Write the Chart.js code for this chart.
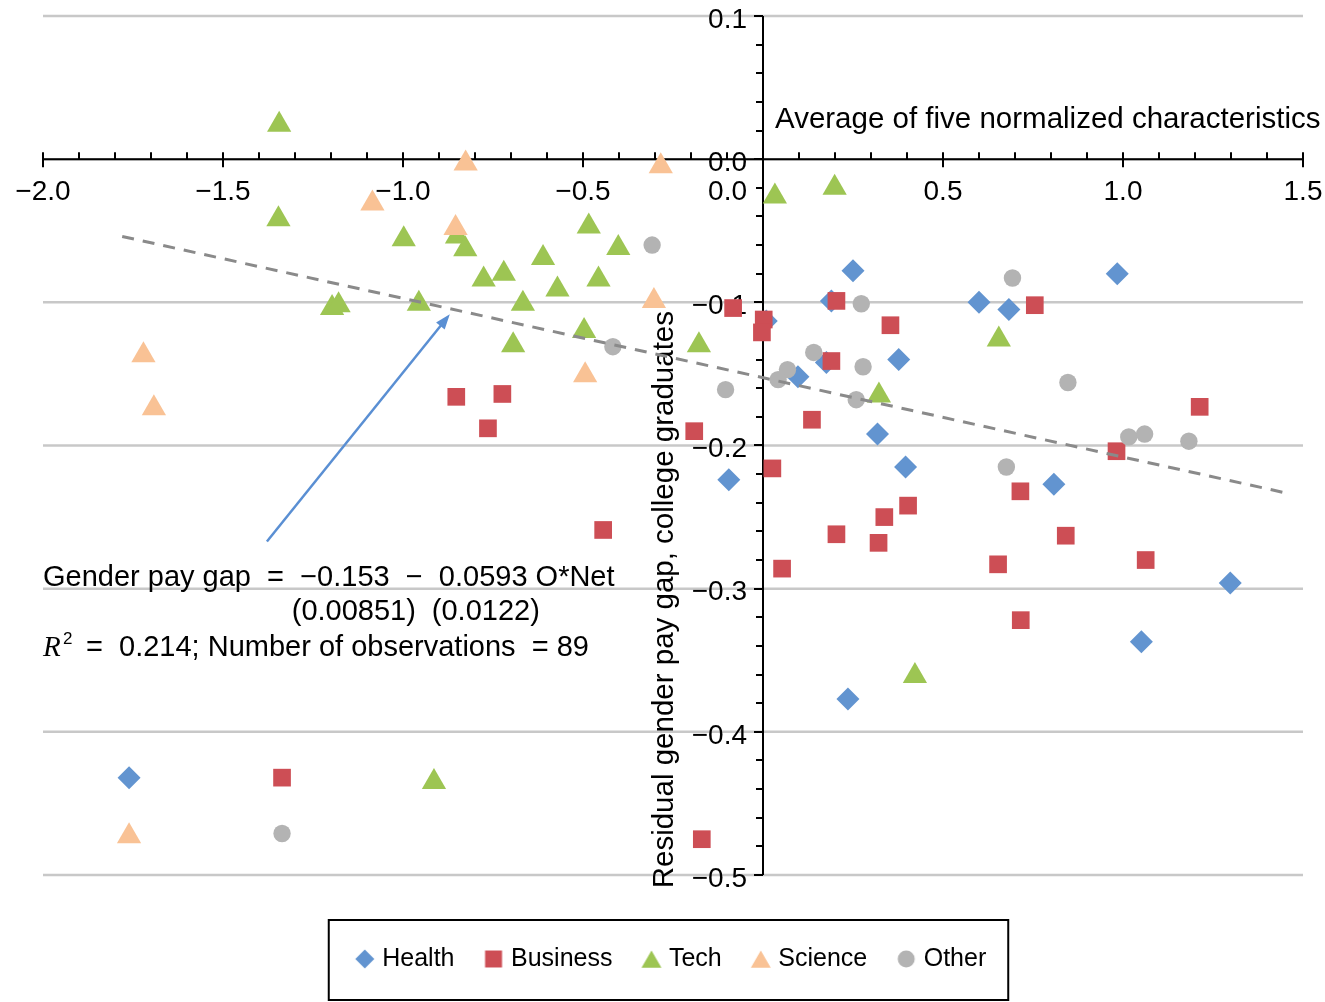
<!DOCTYPE html>
<html>
<head>
<meta charset="utf-8">
<script src="https://cdn.jsdelivr.net/npm/chart.js@4.4.1/dist/chart.umd.min.js"></script>
<style>
html,body{margin:0;padding:0;background:#fff;}
#wrap{width:1325px;height:1002px;}
</style>
</head>
<body>
<div id="wrap"><canvas id="c" width="1325" height="1002"></canvas></div>
<script>
// ---------------- data ----------------
const categories = ['Health', 'Business', 'Tech', 'Science', 'Other'];

const healthX = [0.009, 0.250, 0.190, 0.377, 0.176, 0.097, -0.095, 0.600, 0.683, 0.984, 0.318, 0.396, 0.808, 1.298, 0.236, 1.051, -1.761];
const healthY = [-0.113, -0.078, -0.099, -0.140, -0.142, -0.152, -0.224, -0.100, -0.105, -0.080, -0.192, -0.215, -0.227, -0.296, -0.377, -0.337, -0.432];

const businessX = [-0.083, 0.002, -0.003, 0.204, 0.354, 0.190, 0.136, -0.852, -0.724, -0.764, -0.191, -0.444, 0.026, 0.053, 0.755, 1.213, 0.982, 0.715, 0.403, 0.337, 0.204, 0.321, 0.841, 0.653, 1.063, 0.716, -0.170, -1.336];
const businessY = [-0.104, -0.112, -0.121, -0.099, -0.116, -0.141, -0.182, -0.166, -0.164, -0.188, -0.190, -0.259, -0.216, -0.286, -0.102, -0.173, -0.204, -0.232, -0.242, -0.250, -0.262, -0.268, -0.263, -0.283, -0.280, -0.322, -0.475, -0.432];

const techX = [-1.344, -1.346, -0.998, -1.197, -1.179, -0.956, -0.850, -0.827, -0.776, -0.720, -0.611, -0.484, -0.402, -0.571, -0.457, -0.667, -0.497, -0.694, -0.178, 0.033, 0.199, 0.322, 0.655, 0.422, -0.914];
const techY = [0.024, -0.042, -0.056, -0.104, -0.102, -0.101, -0.054, -0.063, -0.084, -0.080, -0.069, -0.047, -0.062, -0.091, -0.084, -0.101, -0.120, -0.130, -0.130, -0.026, -0.020, -0.165, -0.126, -0.361, -0.435];

const scienceX = [-1.085, -1.721, -1.692, -0.826, -0.284, -0.854, -0.303, -0.494, -1.761];
const scienceY = [-0.031, -0.137, -0.174, -0.003, -0.005, -0.048, -0.099, -0.151, -0.473];

const otherX = [-0.308, -0.417, -0.104, 0.273, 0.141, 0.278, 0.068, 0.042, 0.259, 0.693, 0.847, 1.016, 1.060, 1.183, 0.676, -1.336];
const otherY = [-0.060, -0.131, -0.161, -0.101, -0.135, -0.145, -0.147, -0.154, -0.168, -0.083, -0.156, -0.194, -0.192, -0.197, -0.215, -0.471];

// fitted line end points (as drawn)
const trendX = [-1.78, 1.45];
const trendY = [-0.054, -0.233];

// arrow annotation (tail -> head), data units
const arrowX = [-1.378, -0.870];
const arrowY = [-0.267, -0.1084];

// axis ticks
const xMin = -2.0, xMax = 1.5, xMinorStep = 0.1;
const yMin = -0.5, yMax = 0.1, yMinorStep = 0.02;
const xTickValues = [-2.0, -1.5, -1.0, -0.5, 0.0, 0.5, 1.0, 1.5];
const xTickLabels = ['\u22122.0', '\u22121.5', '\u22121.0', '\u22120.5', '0.0', '0.5', '1.0', '1.5'];
const yTickValues = [0.1, 0.0, -0.1, -0.2, -0.3, -0.4, -0.5];
const yTickLabels = ['0.1', '0.0', '\u22120.1', '\u22120.2', '\u22120.3', '\u22120.4', '\u22120.5'];

const xTitle = 'Average of five normalized characteristics';
const yTitle = 'Residual gender pay gap, college graduates';
const eqLine1 = 'Gender pay gap  =  \u22120.153  \u2212  0.0593 O*Net';
const eqSe1 = '(0.00851)';
const eqSe2 = '(0.0122)';
const eqR = 'R';
const eqR2 = '2';
const eqLine3 = '=  0.214; Number of observations  = 89';

// ---------------- style ----------------
const FONT = '"Liberation Sans", Arial, Helvetica, sans-serif';
const SERIF = '"Liberation Serif", "DejaVu Serif", serif';
const COLORS = ['#6294D0', '#CD4E55', '#9DC553', '#F9C295', '#B3B3B3'];
const STYLES = ['rectRot', 'rect', 'triangle', 'triangle', 'circle'];
const RADII = [11.5, 12.5, 14, 14, 8.7];
const LEGEND_RADII = [9.5, 12, 11.5, 11.5, 8.5];
const GRID_COLOR = '#c8c8c8';

const xs = [healthX, businessX, techX, scienceX, otherX];
const ys = [healthY, businessY, techY, scienceY, otherY];

// legend marker icons, drawn with Chart.js' own point renderer
const legendIcons = categories.map((name, i) => {
  const cv = document.createElement('canvas');
  const s = 26;
  cv.width = s; cv.height = s;
  const c = cv.getContext('2d');
  c.fillStyle = COLORS[i];
  c.strokeStyle = COLORS[i];
  const yOff = STYLES[i] === 'triangle' ? 3 : 0;
  Chart.helpers.drawPoint(c, {pointStyle: STYLES[i], radius: LEGEND_RADII[i], rotation: 0, borderWidth: 0}, s / 2, s / 2 + yOff);
  return cv;
});

const datasets = categories.map((name, i) => ({
  label: name,
  data: xs[i].map((x, j) => ({x: x, y: ys[i][j]})),
  backgroundColor: COLORS[i],
  borderColor: COLORS[i],
  borderWidth: 0,
  pointStyle: STYLES[i],
  pointRadius: RADII[i],
  pointHoverRadius: RADII[i],
  order: categories.length - i,
  clip: false
}));

datasets.push({
  type: 'line',
  label: 'fit',
  data: trendX.map((x, j) => ({x: x, y: trendY[j]})),
  showLine: true,
  borderColor: '#8a8a8a',
  borderWidth: 3,
  borderDash: [12, 9],
  pointRadius: 0,
  fill: false,
  order: 0,
  clip: false
});

// ---------------- plugin: crossing axes, grid, titles, annotations ----------------
const crossAxes = {
  id: 'crossAxes',
  beforeDatasetsDraw(chart) {
    const {ctx, chartArea: ca} = chart;
    const sx = chart.scales.x, sy = chart.scales.y;
    const X = v => sx.getPixelForValue(v), Y = v => sy.getPixelForValue(v);
    const x0 = X(0), y0 = Y(0);
    ctx.save();
    // gridlines
    ctx.strokeStyle = GRID_COLOR;
    ctx.lineWidth = 2.5;
    yTickValues.forEach(v => {
      const py = Y(v);
      ctx.beginPath(); ctx.moveTo(ca.left, py); ctx.lineTo(ca.right, py); ctx.stroke();
    });
    // x axis
    ctx.strokeStyle = '#000';
    ctx.lineWidth = 2;
    ctx.beginPath(); ctx.moveTo(X(xMin), y0); ctx.lineTo(X(xMax), y0); ctx.stroke();
    const nX = Math.round((xMax - xMin) / xMinorStep);
    for (let i = 0; i <= nX; i++) {
      const px = Math.round(X(xMin + i * xMinorStep));
      const major = i % 5 === 0;
      ctx.beginPath(); ctx.moveTo(px, y0 - 7); ctx.lineTo(px, major ? y0 + 8 : y0); ctx.stroke();
    }
    // y axis
    ctx.beginPath(); ctx.moveTo(x0, Y(yMax)); ctx.lineTo(x0, Y(yMin)); ctx.stroke();
    const nY = Math.round((yMax - yMin) / yMinorStep);
    for (let i = 0; i <= nY; i++) {
      const py = Math.round(Y(yMax - i * yMinorStep));
      const major = i % 5 === 0;
      ctx.beginPath(); ctx.moveTo(x0 - (major ? 9 : 7), py); ctx.lineTo(x0, py); ctx.stroke();
    }
    // tick labels
    ctx.fillStyle = '#000';
    ctx.font = '28px ' + FONT;
    ctx.textBaseline = 'middle';
    xTickValues.forEach((v, i) => {
      if (v === 0) { ctx.textAlign = 'right'; ctx.fillText(xTickLabels[i], x0 - 16, y0 + 33); }
      else { ctx.textAlign = 'center'; ctx.fillText(xTickLabels[i], X(v), y0 + 33); }
    });
    ctx.textAlign = 'right';
    yTickValues.forEach((v, i) => ctx.fillText(yTickLabels[i], x0 - 16, Y(v) + 4));
    // axis titles
    ctx.font = '29.5px ' + FONT;
    ctx.textBaseline = 'alphabetic';
    ctx.textAlign = 'left';
    ctx.fillText(xTitle, x0 + 12, y0 - 31);
    ctx.save();
    ctx.translate(x0 - 90, Y(-0.3) + 11);
    ctx.rotate(-Math.PI / 2);
    ctx.textAlign = 'center';
    ctx.fillText(yTitle, 0, 0);
    ctx.restore();
    // regression annotation
    ctx.textAlign = 'left';
    ctx.font = '29px ' + FONT;
    ctx.fillText(eqLine1, X(-2.0), Y(-0.2978));
    ctx.fillText(eqSe1, X(-1.309), Y(-0.3222));
    ctx.fillText(eqSe2, X(-0.920), Y(-0.3222));
    ctx.font = 'italic 29px ' + SERIF;
    ctx.fillText(eqR, X(-2.0), Y(-0.3473));
    ctx.font = '17px ' + FONT;
    ctx.fillText(eqR2, X(-2.0) + 20, Y(-0.3473) - 12);
    ctx.font = '29px ' + FONT;
    ctx.fillText(eqLine3, X(-2.0) + 43, Y(-0.3473));
    // arrow
    const ax1 = X(arrowX[0]), ay1 = Y(arrowY[0]), ax2 = X(arrowX[1]), ay2 = Y(arrowY[1]);
    const ang = Math.atan2(ay2 - ay1, ax2 - ax1);
    const hl = 15, hw = 5.5;
    ctx.strokeStyle = '#5A8FD3';
    ctx.fillStyle = '#5A8FD3';
    ctx.lineWidth = 2.5;
    ctx.beginPath();
    ctx.moveTo(ax1, ay1);
    ctx.lineTo(ax2 - Math.cos(ang) * hl * 0.8, ay2 - Math.sin(ang) * hl * 0.8);
    ctx.stroke();
    ctx.beginPath();
    ctx.moveTo(ax2, ay2);
    ctx.lineTo(ax2 - Math.cos(ang) * hl + Math.sin(ang) * hw, ay2 - Math.sin(ang) * hl - Math.cos(ang) * hw);
    ctx.lineTo(ax2 - Math.cos(ang) * hl - Math.sin(ang) * hw, ay2 - Math.sin(ang) * hl + Math.cos(ang) * hw);
    ctx.closePath();
    ctx.fill();
    ctx.restore();
  },
  afterDraw(chart) {
    const lg = chart.legend;
    if (!lg || !lg.legendHitBoxes || !lg.legendHitBoxes.length) return;
    const hb = lg.legendHitBoxes;
    const first = hb[0], last = hb[hb.length - 1];
    const cy = first.top + first.height / 2;
    const left = first.left - 31, right = last.left + last.width + 22;
    const ctx = chart.ctx;
    ctx.save();
    ctx.strokeStyle = '#000';
    ctx.lineWidth = 2;
    ctx.strokeRect(left, cy - 39, right - left, 80);
    ctx.restore();
  }
};

Chart.defaults.font.family = FONT;
Chart.defaults.color = '#000';

const defaultLabels = Chart.defaults.plugins.legend.labels.generateLabels;

new Chart(document.getElementById('c').getContext('2d'), {
  type: 'scatter',
  data: {datasets: datasets},
  options: {
    responsive: false,
    animation: false,
    devicePixelRatio: 1,
    events: [],
    layout: {padding: {left: 43, right: 22, top: 16, bottom: 20.5}},
    scales: {
      x: {type: 'linear', min: xMin, max: xMax, display: false},
      y: {type: 'linear', min: yMin, max: yMax, display: false}
    },
    plugins: {
      tooltip: {enabled: false},
      legend: {
        display: true,
        position: 'bottom',
        align: 'center',
        title: {display: true, text: ' ', font: {size: 10}, padding: {top: 0, bottom: 25.5}},
        labels: {
          usePointStyle: true,
          boxWidth: 10,
          boxHeight: 14,
          padding: 34,
          color: '#000',
          font: {size: 25, family: FONT},
          generateLabels: (chart) => defaultLabels(chart).map(item => {
            if (item.datasetIndex < categories.length) item.pointStyle = legendIcons[item.datasetIndex];
            return item;
          }),
          filter: (item) => item.datasetIndex < categories.length,
          sort: (a, b) => a.datasetIndex - b.datasetIndex
        }
      }
    }
  },
  plugins: [crossAxes]
});
</script>
</body>
</html>
